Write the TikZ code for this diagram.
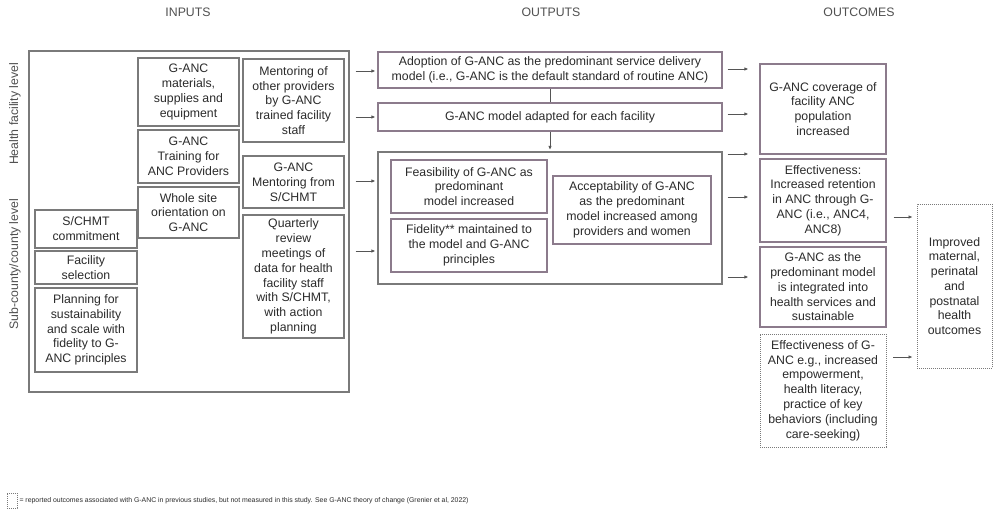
\documentclass[tikz,border=0pt]{standalone}
\usepackage{fontspec}
\setmainfont{Liberation Sans}
\usetikzlibrary{arrows.meta,calc}
\definecolor{txt}{HTML}{2B2B2B}
\definecolor{hdr}{HTML}{505050}
\definecolor{ibord}{HTML}{7A7A7A}
\definecolor{pbord}{HTML}{8C7B8C}
\definecolor{arrc}{HTML}{555555}
\begin{document}
\begin{tikzpicture}[x=1pt,y=-1pt, font=\fontsize{12.3}{14.8}\selectfont, text=txt,
  box/.style={draw=ibord, line width=1.2pt, align=center, inner sep=0pt},
  pbox/.style={box, draw=pbord},
  dbox/.style={box, line width=0.9pt, dash pattern=on 0.9pt off 1.1pt, draw=ibord},
  hdrtext/.style={text=hdr, font=\fontsize{12.3}{14.8}\selectfont},
  arr/.style={-{Latex[length=4pt,width=3.5pt]}, draw=arrc, line width=0.9pt},
  conn/.style={draw=arrc, line width=0.9pt}]
\useasboundingbox (0,0) rectangle (1000,516);
\fill[white] (0,0) rectangle (1000,516);

% headers
\node[hdrtext] (hin) at (188,12) {INPUTS};
\node[hdrtext] (hout) at (551,12) {OUTPUTS};
\node[hdrtext] (hoc) at (859,12) {OUTCOMES};

% side labels
\node[rotate=90, text=hdr] (hfl) at (15,114) {Health facility level};
\node[rotate=90, text=hdr] (scl) at (15,264) {Sub-county/county level};

% inputs
\node[box, minimum width=320pt, minimum height=341pt] (inbox) at (189,221.5) {};
\node[box, minimum width=101pt, minimum height=68pt] (mat) at (188.5,92) {G-ANC\\materials,\\supplies and\\equipment};
\node[box, minimum width=101pt, minimum height=53pt] (train) at (188.5,156.5) {G-ANC\\Training for\\ANC Providers};
\node[box, minimum width=101pt, minimum height=51pt] (whole) at (188.5,212.5) {Whole site\\orientation on\\G-ANC};
\node[box, minimum width=101pt, minimum height=83pt] (mentor) at (293.5,100.5) {Mentoring of\\other providers\\by G-ANC\\trained facility\\staff};
\node[box, minimum width=101pt, minimum height=52pt] (ments) at (293.5,182) {G-ANC\\Mentoring from\\S/CHMT};
\node[box, minimum width=101pt, minimum height=123pt] (quart) at (293.5,276.5) {Quarterly\\review\\meetings of\\data for health\\facility staff\\with S/CHMT,\\with action\\planning};
\node[box, minimum width=102pt, minimum height=38pt] (schmt) at (86,229) {S/CHMT\\commitment};
\node[box, minimum width=102pt, minimum height=33pt] (facsel) at (86,267.5) {Facility\\selection};
\node[box, minimum width=102pt, minimum height=84pt] (plan) at (86,330) {Planning for\\sustainability\\and scale with\\fidelity to G-\\ANC principles};

% outputs
\node[pbox, minimum width=344pt, minimum height=36pt] (adopt) at (550,70) {Adoption of G-ANC as the predominant service delivery\\model (i.e., G-ANC is the default standard of routine ANC)};
\node[pbox, minimum width=344pt, minimum height=28pt] (adapt) at (550,117) {G-ANC model adapted for each facility};
\node[box, minimum width=344pt, minimum height=132pt] (outbox) at (550,218) {};
\node[pbox, minimum width=156pt, minimum height=53pt] (feas) at (469,186.5) {Feasibility of G-ANC as\\predominant\\model increased};
\node[pbox, minimum width=156pt, minimum height=53pt] (fid) at (469,245.5) {Fidelity** maintained to\\the model and G-ANC\\principles};
\node[pbox, minimum width=158pt, minimum height=68pt] (acc) at (632,210) {Acceptability of G-ANC\\as the predominant\\model increased among\\providers and women};

% outcomes
\node[pbox, minimum width=126pt, minimum height=90pt] (cov) at (823,109) {G-ANC coverage of\\facility ANC\\population\\increased};
\node[pbox, minimum width=126pt, minimum height=83pt] (eff) at (823,200.5) {Effectiveness:\\Increased retention\\in ANC through G-\\ANC (i.e., ANC4,\\ANC8)};
\node[pbox, minimum width=126pt, minimum height=80pt] (integ) at (823,287) {G-ANC as the\\predominant model\\is integrated into\\health services and\\sustainable};
\node[dbox, minimum width=126pt, minimum height=113pt] (effg) at (823,390.5) {Effectiveness of G-\\ANC e.g., increased\\empowerment,\\health literacy,\\practice of key\\behaviors (including\\care-seeking)};
\node[dbox, minimum width=75pt, minimum height=164pt] (impr) at (954.5,286) {Improved\\maternal,\\perinatal\\and\\postnatal\\health\\outcomes};

% connectors inputs -> outputs
\draw[arr] ([xshift=6pt]inbox.east |- 0,71) -- ([xshift=-2pt]adopt.west |- 0,71);
\draw[arr] ([xshift=6pt]inbox.east |- 0,117) -- ([xshift=-2pt]adapt.west |- 0,117);
\draw[arr] ([xshift=6pt]inbox.east |- 0,181) -- ([xshift=-2pt]outbox.west |- 0,181);
\draw[arr] ([xshift=6pt]inbox.east |- 0,251) -- ([xshift=-2pt]outbox.west |- 0,251);

% vertical between outputs
\draw[conn] (adopt.south) -- (adapt.north);
\draw[arr] (adapt.south) -- ([yshift=1.5pt]outbox.north);

% outputs -> outcomes
\draw[arr] ([xshift=5pt]adopt.east |- 0,69) -- ([xshift=-11pt]cov.west |- 0,69);
\draw[arr] ([xshift=5pt]adapt.east |- 0,114) -- ([xshift=-11pt]cov.west |- 0,114);
\draw[arr] ([xshift=5pt]outbox.east |- 0,154) -- ([xshift=-11pt]cov.west |- 0,154);
\draw[arr] ([xshift=5pt]outbox.east |- 0,197) -- ([xshift=-11pt]eff.west |- 0,197);
\draw[arr] ([xshift=5pt]outbox.east |- 0,277) -- ([xshift=-11pt]integ.west |- 0,277);

% outcomes -> impact
\draw[arr] ([xshift=7pt]eff.east |- 0,217) -- ([xshift=-4pt]impr.west |- 0,217);
\draw[arr] ([xshift=7pt]effg.east |- 0,357) -- ([xshift=-4pt]impr.west |- 0,357);

% legend
\node[dbox, line width=0.7pt, minimum width=10pt, minimum height=15pt] (leg) at (12,500.5) {};
\node[anchor=west, inner sep=1pt, font=\fontsize{6.9}{8}\selectfont] (legt) at ([xshift=1pt]leg.east) {= reported outcomes associated with G-ANC in previous studies, but not measured in this study. See G-ANC theory of change (Grenier et al, 2022)};
\end{tikzpicture}
\end{document}
